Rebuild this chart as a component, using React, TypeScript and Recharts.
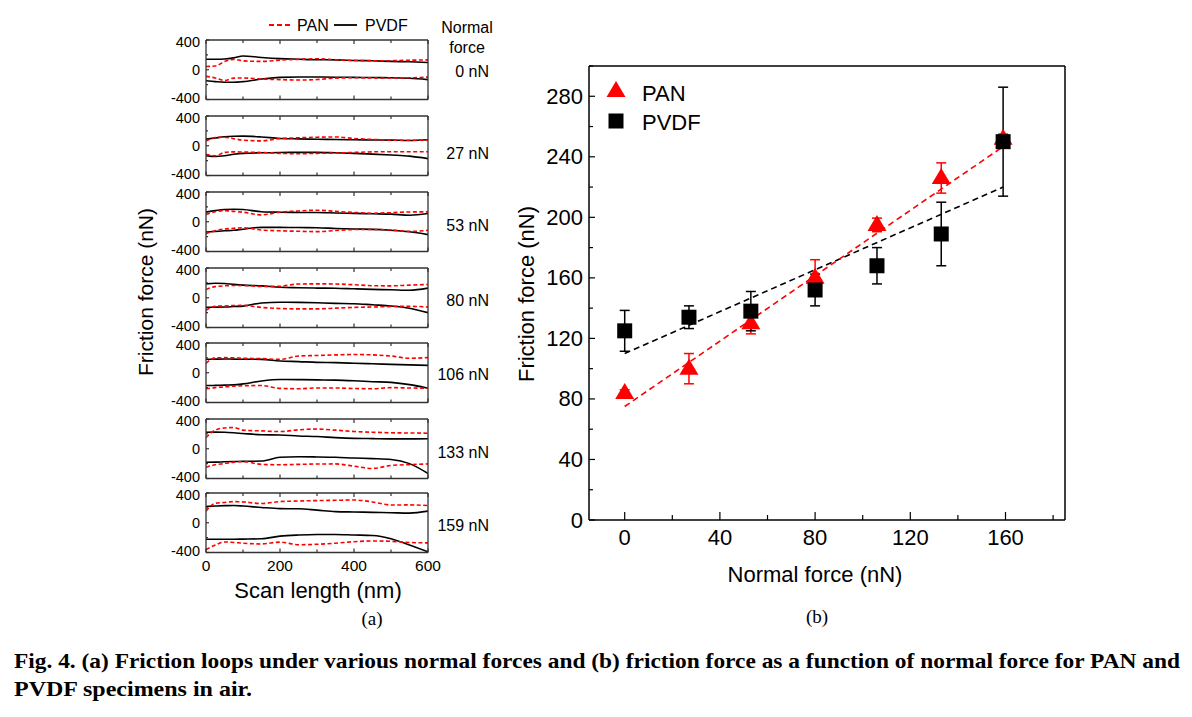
import React from "react";
import {
  LineChart,
  Line,
  XAxis,
  YAxis,
  ComposedChart,
  Scatter,
  ErrorBar,
} from "recharts";

// ---- data ----
const scanX = [0, 25, 50, 75, 100, 150, 200, 250, 300, 350, 400, 450, 500, 550, 600];
const normalForce = [0, 27, 53, 80, 106, 133, 159];

// friction loops (a): one row per normal force, values in nN along scanX
const panUpper = [
  [44, 50, 110, 140, 120, 112, 130, 140, 148, 135, 126, 122, 122, 128, 133],
  [62, 110, 115, 95, 75, 65, 98, 107, 115, 118, 98, 85, 76, 74, 76],
  [98, 135, 150, 140, 128, 92, 130, 145, 155, 140, 125, 115, 122, 132, 133],
  [110, 150, 160, 164, 164, 152, 155, 185, 187, 185, 175, 162, 160, 170, 178],
  [127, 200, 203, 200, 195, 190, 180, 225, 232, 240, 245, 240, 225, 195, 203],
  [151, 250, 280, 285, 250, 240, 231, 255, 265, 250, 232, 222, 215, 212, 209],
  [156, 262, 272, 284, 280, 258, 285, 292, 298, 302, 306, 280, 238, 240, 231],
];
const panLower = [
  [-89, -110, -145, -112, -110, -125, -133, -138, -132, -112, -108, -110, -111, -108, -98],
  [-115, -135, -90, -82, -85, -90, -102, -107, -102, -98, -90, -82, -80, -80, -80],
  [-160, -120, -98, -88, -80, -112, -122, -128, -133, -118, -105, -104, -110, -130, -115],
  [-169, -115, -110, -105, -102, -130, -145, -150, -150, -140, -130, -124, -118, -115, -124],
  [-217, -200, -190, -180, -175, -172, -210, -215, -205, -205, -212, -215, -200, -205, -208],
  [-249, -215, -200, -180, -172, -210, -215, -210, -205, -204, -235, -265, -225, -213, -204],
  [-360, -300, -258, -265, -275, -285, -260, -295, -290, -275, -255, -245, -250, -265, -271],
];
const pvdfUpper = [
  [142, 142, 145, 160, 185, 165, 150, 142, 135, 133, 125, 120, 112, 107, 98],
  [89, 105, 120, 127, 129, 118, 98, 92, 88, 84, 80, 78, 76, 70, 80],
  [129, 150, 165, 169, 165, 135, 128, 125, 124, 118, 112, 107, 102, 88, 111],
  [187, 195, 192, 180, 170, 160, 142, 135, 130, 128, 120, 112, 107, 100, 129],
  [181, 183, 185, 183, 182, 180, 158, 150, 140, 136, 128, 120, 113, 106, 99],
  [222, 224, 222, 215, 205, 188, 185, 172, 164, 150, 140, 136, 133, 133, 135],
  [218, 225, 230, 231, 225, 205, 190, 188, 170, 150, 145, 140, 135, 130, 156],
];
const pvdfLower = [
  [-147, -160, -168, -168, -160, -125, -102, -98, -98, -100, -102, -105, -107, -115, -133],
  [-133, -145, -135, -115, -102, -95, -90, -89, -89, -95, -102, -112, -125, -140, -173],
  [-138, -130, -122, -115, -100, -75, -76, -78, -80, -90, -98, -102, -115, -135, -173],
  [-129, -127, -124, -118, -112, -70, -60, -62, -68, -75, -80, -95, -110, -140, -200],
  [-172, -170, -166, -163, -150, -110, -90, -92, -96, -99, -108, -120, -130, -160, -208],
  [-182, -180, -175, -172, -170, -165, -115, -107, -110, -115, -125, -133, -145, -200, -333],
  [-222, -222, -222, -222, -220, -215, -180, -165, -158, -158, -165, -172, -215, -300, -390],
];

// mean friction (b)
const panMean = [84, 100, 130, 160, 195, 226, 252];
const panErr = [2, 10, 7, 12, 4.5, 10, 3];
const pvdfMean = [125, 134, 138, 152, 168, 189, 250];
const pvdfErr = [13.5, 7.5, 13, 10.5, 12, 21, 36];

// linear fits (b)
const panFitX = [0, 162];
const panFitY = [75, 250];
const pvdfFitX = [0, 159];
const pvdfFitY = [110, 220];

// ticks
const scanTicks = [0, 100, 200, 300, 400, 500, 600];
const scanLabels = [0, 200, 400, 600];
const loopTicks = [-400, -200, 0, 200, 400];
const loopLabels = [-400, 0, 400];
const forceTicks = [0, 20, 40, 60, 80, 100, 120, 140, 160, 180];
const forceLabels = [0, 40, 80, 120, 160];
const frictionTicks = [0, 20, 40, 60, 80, 100, 120, 140, 160, 180, 200, 220, 240, 260, 280, 300];
const frictionLabels = [0, 40, 80, 120, 160, 200, 240, 280];

// ---- layout ----
const SANS = "'Liberation Sans', Arial, Helvetica, sans-serif";
const SERIF = "'Liberation Serif', 'Times New Roman', serif";
const RED = "#ff0000";
const FRAME = "#333";
const loopTop = [40, 116, 191.5, 267.5, 343, 418.5, 492.5];
const LOOP_H = 59.5;

type TickCfg = {
  side: "bottom" | "left" | "top";
  major: number[];
  showLabels: boolean;
  majorLen: number;
  minorLen: number;
  gap: number;
  size: number;
  stroke: string;
  nudge?: (v: number) => number;
};

// custom tick: inward tick marks + outside label (axes have 1px size, tickSize 0)
const makeTick = (c: TickCfg) => (props: any) => {
  const { x, y, payload } = props;
  const v = payload.value;
  const isMajor = c.major.includes(v);
  const len = isMajor ? c.majorLen : c.minorLen;
  const label = c.showLabels && isMajor;
  if (c.side === "left") {
    const dy = c.nudge ? c.nudge(v) : 0;
    return (
      <g>
        <line x1={x} y1={y} x2={x + len} y2={y} stroke={c.stroke} strokeWidth={1.2} />
        {label && (
          <text x={x - c.gap} y={y + dy} textAnchor="end" dominantBaseline="central" fontSize={c.size} fontFamily={SANS} fill="#000">
            {v}
          </text>
        )}
      </g>
    );
  }
  if (c.side === "top") {
    return <line x1={x} y1={y} x2={x} y2={y + len} stroke={c.stroke} strokeWidth={1.2} />;
  }
  return (
    <g>
      <line x1={x} y1={y} x2={x} y2={y - len} stroke={c.stroke} strokeWidth={1.2} />
      {label && (
        <text x={x} y={y + c.gap} textAnchor="middle" dominantBaseline="central" fontSize={c.size} fontFamily={SANS} fill="#000">
          {v}
        </text>
      )}
    </g>
  );
};

const loopRows = (i: number) =>
  scanX.map((x, j) => ({
    x,
    panUp: panUpper[i][j],
    panLo: panLower[i][j],
    pvdfUp: pvdfUpper[i][j],
    pvdfLo: pvdfLower[i][j],
  }));

// keep the stacked ±400 labels of neighbouring panels apart
const loopNudge = (v: number) => (v === 400 ? 1.5 : v === -400 ? -1.5 : 0);

function LoopPanel({ i }: { i: number }) {
  const last = i === normalForce.length - 1;
  const bottom = last ? 30 : 8;
  const axisLine = { stroke: FRAME, strokeWidth: 1.3 };
  const dash = { stroke: RED, strokeWidth: 1.6, strokeDasharray: "4 2.5" };
  return (
    <div style={{ position: "absolute", left: 146, top: loopTop[i] - 8 }}>
      <LineChart
        width={302}
        height={8 + LOOP_H + bottom}
        data={loopRows(i)}
        margin={{ top: 7, right: 19, bottom: bottom - 1, left: 59 }}
      >
        <XAxis
          dataKey="x"
          type="number"
          domain={[0, 600]}
          ticks={scanTicks}
          interval={0}
          height={1}
          tickSize={0}
          tickMargin={0}
          tickLine={false}
          axisLine={axisLine}
          allowDataOverflow
          tick={makeTick({ side: "bottom", major: scanLabels, showLabels: last, majorLen: 4, minorLen: 3, gap: 13, size: 15.5, stroke: FRAME })}
        />
        <XAxis
          xAxisId="top"
          orientation="top"
          dataKey="x"
          type="number"
          domain={[0, 600]}
          ticks={scanTicks}
          interval={0}
          height={1}
          tickSize={0}
          tickMargin={0}
          tickLine={false}
          axisLine={axisLine}
          allowDataOverflow
          tick={makeTick({ side: "top", major: scanLabels, showLabels: false, majorLen: 4, minorLen: 3, gap: 0, size: 15.5, stroke: FRAME })}
        />
        <YAxis
          type="number"
          domain={[-400, 400]}
          ticks={loopTicks}
          interval={0}
          width={1}
          tickSize={0}
          tickMargin={0}
          tickLine={false}
          axisLine={axisLine}
          allowDataOverflow
          tick={makeTick({ side: "left", major: loopLabels, showLabels: true, majorLen: 3, minorLen: 2, gap: 6, size: 14.5, stroke: FRAME, nudge: loopNudge })}
        />
        <YAxis
          yAxisId="right"
          orientation="right"
          type="number"
          domain={[-400, 400]}
          width={1}
          tick={false}
          tickLine={false}
          axisLine={axisLine}
        />
        <Line dataKey="pvdfUp" type="monotone" stroke="#000" strokeWidth={1.6} dot={false} isAnimationActive={false} />
        <Line dataKey="pvdfLo" type="monotone" stroke="#000" strokeWidth={1.6} dot={false} isAnimationActive={false} />
        <Line dataKey="panUp" type="monotone" {...dash} dot={false} isAnimationActive={false} />
        <Line dataKey="panLo" type="monotone" {...dash} dot={false} isAnimationActive={false} />
      </LineChart>
    </div>
  );
}

const panRows = normalForce.map((x, i) => ({ x, y: panMean[i], err: panErr[i] }));
const pvdfRows = normalForce.map((x, i) => ({ x, y: pvdfMean[i], err: pvdfErr[i] }));
const panFitRows = panFitX.map((x, i) => ({ x, y: panFitY[i] }));
const pvdfFitRows = pvdfFitX.map((x, i) => ({ x, y: pvdfFitY[i] }));

const Triangle = (p: any) => (
  <polygon points={`${p.cx},${p.cy - 10} ${p.cx - 9.5},${p.cy + 6} ${p.cx + 9.5},${p.cy + 6}`} fill={RED} />
);
const Square = (p: any) => <rect x={p.cx - 7.5} y={p.cy - 7.5} width={15} height={15} fill="#000" />;
const NoDot = () => <g />;

function ForcePanel() {
  const axisLine = { stroke: "#000", strokeWidth: 1.5 };
  return (
    <div style={{ position: "absolute", left: 509, top: 56 }}>
      <ComposedChart width={571} height={504} margin={{ top: 9, right: 14, bottom: 39, left: 79 }}>
        <XAxis
          dataKey="x"
          type="number"
          domain={[-15, 185]}
          ticks={forceTicks}
          interval={0}
          height={1}
          tickSize={0}
          tickMargin={0}
          tickLine={false}
          axisLine={axisLine}
          allowDataOverflow
          tick={makeTick({ side: "bottom", major: forceLabels, showLabels: true, majorLen: 8, minorLen: 5, gap: 17, size: 22, stroke: "#000" })}
        />
        <XAxis xAxisId="top" orientation="top" type="number" domain={[-15, 185]} height={1} tick={false} tickLine={false} axisLine={axisLine} />
        <YAxis
          dataKey="y"
          type="number"
          domain={[0, 300]}
          ticks={frictionTicks}
          interval={0}
          width={1}
          tickSize={0}
          tickMargin={0}
          tickLine={false}
          axisLine={axisLine}
          allowDataOverflow
          tick={makeTick({ side: "left", major: frictionLabels, showLabels: true, majorLen: 6, minorLen: 4, gap: 6, size: 22, stroke: "#000" })}
        />
        <YAxis yAxisId="right" orientation="right" type="number" domain={[0, 300]} width={1} tick={false} tickLine={false} axisLine={axisLine} />
        <Scatter data={pvdfFitRows} shape={NoDot} line={{ stroke: "#000", strokeWidth: 1.6, strokeDasharray: "6 4" }} isAnimationActive={false} />
        <Scatter data={panFitRows} shape={NoDot} line={{ stroke: RED, strokeWidth: 1.6, strokeDasharray: "6 4" }} isAnimationActive={false} />
        <Scatter data={panRows} shape={Triangle} isAnimationActive={false}>
          <ErrorBar dataKey="err" direction="y" width={5} stroke={RED} strokeWidth={1.5} />
        </Scatter>
        <Scatter data={pvdfRows} shape={Square} isAnimationActive={false}>
          <ErrorBar dataKey="err" direction="y" width={5} stroke="#000" strokeWidth={1.5} />
        </Scatter>
      </ComposedChart>
    </div>
  );
}

const forceLabelY = [71, 153, 225, 300, 374, 452, 525];

export default function App() {
  return (
    <div style={{ position: "absolute", left: 0, top: 0, width: 1192, height: 717, background: "#fff", overflow: "hidden" }}>
      {normalForce.map((_, i) => (
        <LoopPanel key={i} i={i} />
      ))}
      <ForcePanel />
      <svg width={1192} height={717} style={{ position: "absolute", left: 0, top: 0, pointerEvents: "none" }} fontFamily={SANS}>
        {/* legend (a) */}
        <line x1={269} y1={25} x2={291} y2={25} stroke={RED} strokeWidth={1.8} strokeDasharray="5 3" />
        <text x={297} y={25} fontSize={16} dominantBaseline="central">PAN</text>
        <line x1={334} y1={25} x2={357} y2={25} stroke="#000" strokeWidth={1.8} />
        <text x={365} y={25} fontSize={16} dominantBaseline="central">PVDF</text>
        <text x={467} y={27} fontSize={16} textAnchor="middle" dominantBaseline="central">Normal</text>
        <text x={467} y={47} fontSize={16} textAnchor="middle" dominantBaseline="central">force</text>
        {normalForce.map((f, i) => (
          <text key={f} x={489} y={forceLabelY[i]} fontSize={16} textAnchor="end" dominantBaseline="central">
            {`${f} nN`}
          </text>
        ))}
        <text x={145} y={292} fontSize={21} textAnchor="middle" dominantBaseline="central" transform="rotate(-90 145 292)">
          Friction force (nN)
        </text>
        <text x={318} y={590} fontSize={22} textAnchor="middle" dominantBaseline="central">Scan length (nm)</text>
        <text x={372} y={618} fontSize={19} textAnchor="middle" dominantBaseline="central" fontFamily={SERIF}>(a)</text>

        {/* panel (b) titles + legend */}
        <text x={526} y={294} fontSize={22} textAnchor="middle" dominantBaseline="central" transform="rotate(-90 526 294)">
          Friction force (nN)
        </text>
        <text x={815} y={574} fontSize={22} textAnchor="middle" dominantBaseline="central">Normal force (nN)</text>
        <text x={817} y={616} fontSize={19} textAnchor="middle" dominantBaseline="central" fontFamily={SERIF}>(b)</text>
        <polygon points="616,81 606.5,97 625.5,97" fill={RED} />
        <text x={642} y={93} fontSize={22} dominantBaseline="central">PAN</text>
        <rect x={608.5} y={113.5} width={15} height={15} fill="#000" />
        <text x={642} y={122} fontSize={22} dominantBaseline="central">PVDF</text>

        {/* caption */}
        <text x={14} y={668} fontSize={22} fontWeight="bold" fontFamily={SERIF} textLength={1166} lengthAdjust="spacingAndGlyphs">
          Fig. 4. (a) Friction loops under various normal forces and (b) friction force as a function of normal force for PAN and
        </text>
        <text x={14} y={696} fontSize={22} fontWeight="bold" fontFamily={SERIF} textLength={238} lengthAdjust="spacingAndGlyphs">
          PVDF specimens in air.
        </text>
      </svg>
    </div>
  );
}
